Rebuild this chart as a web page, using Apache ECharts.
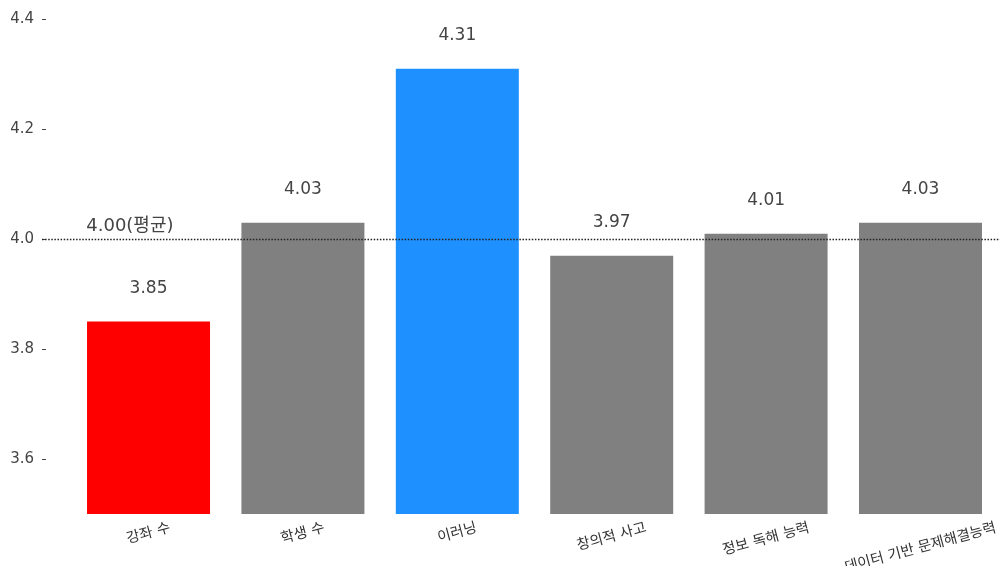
<!DOCTYPE html>
<html>
<head>
<meta charset="utf-8">
<script src="https://cdn.jsdelivr.net/npm/echarts@6/dist/echarts.min.js"></script>
<style>
html,body{margin:0;padding:0;background:#fff;}
#chart{width:1000px;height:566px;}
</style>
</head>
<body>
<div id="chart"></div>
<script>
const categories = ['강좌 수', '학생 수', '이러닝', '창의적 사고', '정보 독해 능력', '데이터 기반 문제해결능력'];
const values = [3.85, 4.03, 4.31, 3.97, 4.01, 4.03];
const barColors = ['#ff0000', '#808080', '#1e90ff', '#808080', '#808080', '#808080'];
const average = 4.00;
const averageLabel = '4.00(평균)';
const yTicks = [3.6, 3.8, 4.0, 4.2, 4.4];

const FONT = '"DejaVu Sans", "Noto Sans CJK KR", sans-serif';
const xFontSize = 14.5;
const rot = 15 * Math.PI / 180;
const barFraction = 0.8;

const idx = categories.map((_, i) => i);

// per-label offsets so rotated labels hang below the axis (bbox top aligned)
const cv = document.createElement('canvas').getContext('2d');
cv.font = xFontSize + 'px ' + FONT;
const rich = {};
categories.forEach((c, i) => {
  const w = cv.measureText(c).width;
  const h = xFontSize;
  const D = (w * Math.sin(rot) + h * Math.cos(rot)) / 2;
  const v = D * Math.cos(rot);
  const u = D * Math.sin(rot);
  rich['l' + i] = {
    fontSize: xFontSize,
    fontFamily: FONT,
    color: '#333',
    padding: [2 * v, 2 * u, 0, 0]
  };
});

const chart = echarts.init(document.getElementById('chart'), null, {renderer: 'canvas'});
chart.setOption({
  animation: false,
  backgroundColor: '#fff',
  textStyle: {fontFamily: FONT},
  grid: {left: 42, top: 0, right: 0, bottom: 52, containLabel: false, outerBoundsMode: 'none'},
  xAxis: {
    type: 'value',
    min: -0.69,
    max: 5.515,
    axisLine: {show: false, onZero: false},
    splitLine: {show: false},
    axisTick: {show: true, inside: true, length: 4, customValues: idx, lineStyle: {color: '#333', width: 1}},
    axisLabel: {
      customValues: idx,
      formatter: (v) => { const i = Math.round(v); return '{l' + i + '|' + categories[i] + '}'; },
      rotate: 15,
      align: 'center',
      verticalAlign: 'middle',
      margin: 7,
      rich: rich
    }
  },
  yAxis: {
    type: 'value',
    min: 3.5,
    max: 4.435,
    axisLine: {show: false, onZero: false},
    splitLine: {show: false},
    axisTick: {show: true, inside: true, length: 4, customValues: yTicks, lineStyle: {color: '#444', width: 1}},
    axisLabel: {
      customValues: yTicks,
      formatter: (v) => v.toFixed(1),
      margin: 8,
      fontSize: 15,
      color: '#444',
      fontFamily: FONT
    }
  },
  series: [{
    type: 'bar',
    barWidth: 123,
    data: values.map((v, i) => ({value: [i, v], itemStyle: {color: barColors[i]}})),
    label: {
      show: true,
      position: 'top',
      distance: 25,
      formatter: (p) => p.value[1].toFixed(2),
      fontSize: 17,
      color: '#444',
      fontFamily: FONT
    },
    markLine: {
      silent: true,
      symbol: 'none',
      data: [{yAxis: average}],
      lineStyle: {type: [1.5, 1.6], color: '#222', width: 1.3},
      label: {show: false},
      emphasis: {disabled: true}
    },
    markPoint: {
      silent: true,
      data: [{
        coord: [0 - barFraction / 2, average],
        symbol: 'rect',
        symbolSize: 1,
        itemStyle: {color: 'rgba(0,0,0,0)'},
        label: {
          show: true,
          formatter: averageLabel,
          position: [0, -12],
          align: 'left',
          verticalAlign: 'middle',
          fontSize: 18,
          color: '#444',
          fontFamily: FONT
        }
      }]
    }
  }]
});
</script>
</body>
</html>
